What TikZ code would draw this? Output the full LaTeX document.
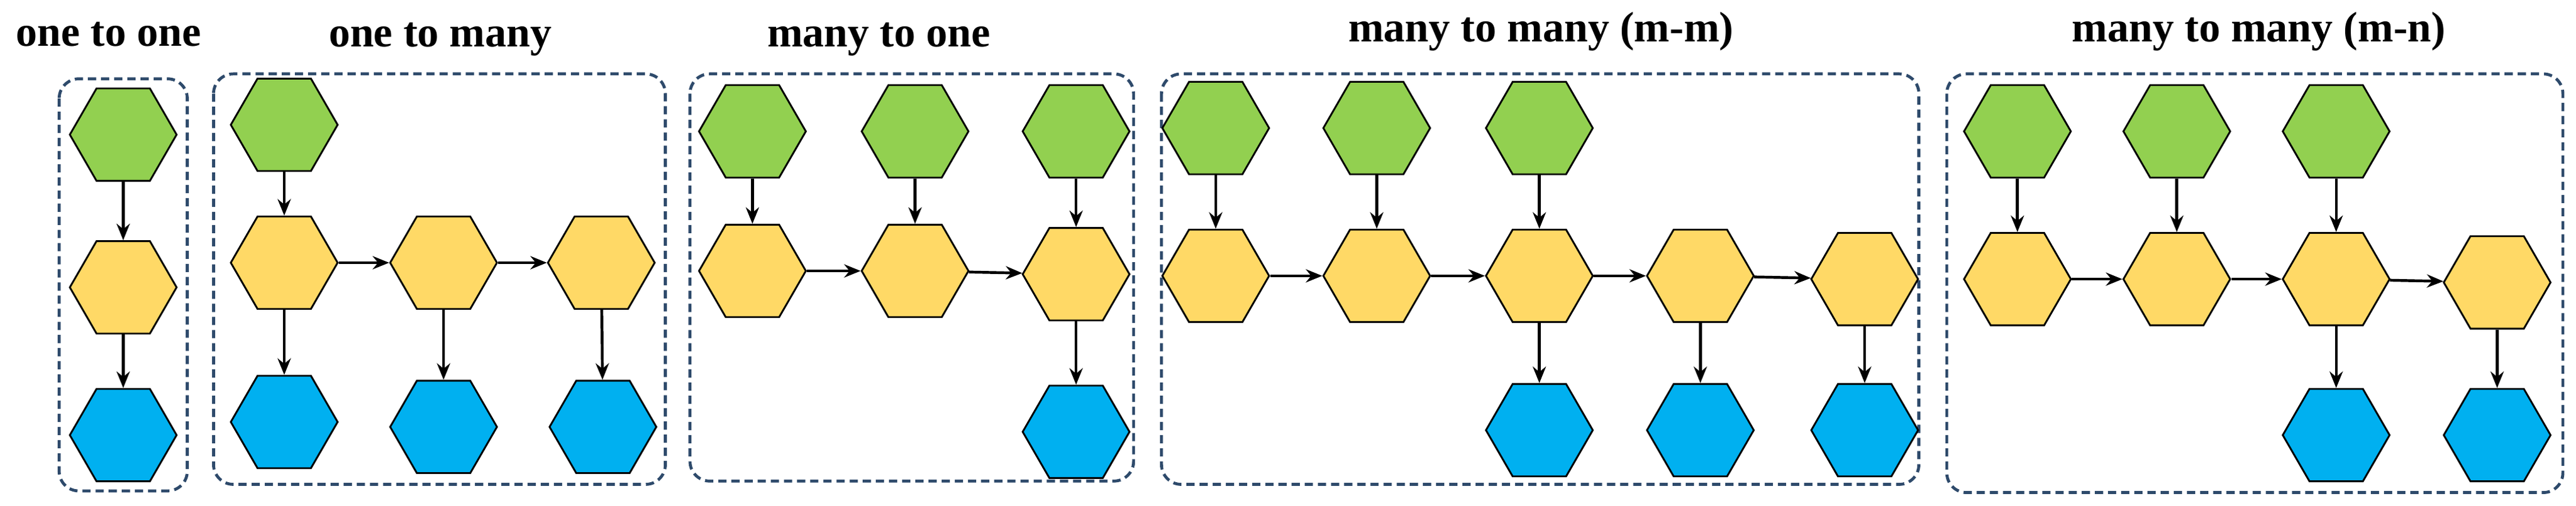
\documentclass[tikz,border=0pt]{standalone}
\usepackage{fontspec}
\setmainfont{Liberation Serif}
\usetikzlibrary{shapes.geometric,arrows.meta}
\definecolor{hg}{HTML}{92D050}
\definecolor{hy}{HTML}{FFD966}
\definecolor{hb}{HTML}{00B0F0}
\definecolor{bx}{HTML}{2E4A6B}
\begin{document}
\begin{tikzpicture}[x=1pt,y=-1pt,
  hex/.style={regular polygon,regular polygon sides=6,minimum size=65pt,inner sep=0pt,draw=black,line width=1.1pt},
  G/.style={hex,fill=hg},Y/.style={hex,fill=hy},B/.style={hex,fill=hb},
  grp/.style={draw=bx,dashed,dash pattern=on 5pt off 3pt,line width=1.8pt,rounded corners=12pt},
  ttl/.style={font=\fontsize{26}{28}\selectfont\bfseries},
  ar/.style={-{Stealth[length=10pt,width=8pt]},line width=1.7pt}]
\useasboundingbox (0,0) rectangle (1568,308);
% boxes
\draw[grp] (36,48) rectangle (114,299);
\draw[grp] (130,45) rectangle (405,295);
\draw[grp] (420,45) rectangle (690,293);
\draw[grp] (707,45) rectangle (1168,295);
\draw[grp] (1185,45) rectangle (1560,300);
% titles
\node[ttl] (t1) at (66,21) {one to one};
\node[ttl] (t2) at (268,24) {one to many};
\node[ttl] (t3) at (535,24) {many to one};
\node[ttl] (t4) at (938,19) {many to many (m-m)};
\node[ttl] (t5) at (1375,19) {many to many (m-n)};
% one to one
\node[G] (a1) at (75,82) {};
\node[Y] (a2) at (75,175) {};
\node[B] (a3) at (75,265) {};
\draw[ar] (a1) -- (a2); \draw[ar] (a2) -- (a3);
% one to many
\node[G] (bg) at (173,76) {};
\node[Y] (by1) at (173,160) {};
\node[Y] (by2) at (270,160) {};
\node[Y] (by3) at (366,160) {};
\node[B] (bb1) at (173,257) {};
\node[B] (bb2) at (270,260) {};
\node[B] (bb3) at (367,260) {};
\draw[ar] (bg) -- (by1);
\draw[ar] (by1) -- (by2); \draw[ar] (by2) -- (by3);
\draw[ar] (by1) -- (bb1); \draw[ar] (by2) -- (bb2); \draw[ar] (by3) -- (bb3);
% many to one
\node[G] (cg1) at (458,80) {};
\node[G] (cg2) at (557,80) {};
\node[G] (cg3) at (655,80) {};
\node[Y] (cy1) at (458,165) {};
\node[Y] (cy2) at (557,165) {};
\node[Y] (cy3) at (655,167) {};
\node[B] (cb3) at (655,263) {};
\draw[ar] (cg1) -- (cy1); \draw[ar] (cg2) -- (cy2); \draw[ar] (cg3) -- (cy3);
\draw[ar] (cy1) -- (cy2); \draw[ar] (cy2) -- (cy3);
\draw[ar] (cy3) -- (cb3);
% many to many m-m
\node[G] (dg1) at (740,78) {};
\node[G] (dg2) at (838,78) {};
\node[G] (dg3) at (937,78) {};
\node[Y] (dy1) at (740,168) {};
\node[Y] (dy2) at (838,168) {};
\node[Y] (dy3) at (937,168) {};
\node[Y] (dy4) at (1035,168) {};
\node[Y] (dy5) at (1135,170) {};
\node[B] (db3) at (937,262) {};
\node[B] (db4) at (1035,262) {};
\node[B] (db5) at (1135,262) {};
\draw[ar] (dg1) -- (dy1); \draw[ar] (dg2) -- (dy2); \draw[ar] (dg3) -- (dy3);
\draw[ar] (dy1) -- (dy2); \draw[ar] (dy2) -- (dy3); \draw[ar] (dy3) -- (dy4); \draw[ar] (dy4) -- (dy5);
\draw[ar] (dy3) -- (db3); \draw[ar] (dy4) -- (db4); \draw[ar] (dy5) -- (db5);
% many to many m-n
\node[G] (eg1) at (1228,80) {};
\node[G] (eg2) at (1325,80) {};
\node[G] (eg3) at (1422,80) {};
\node[Y] (ey1) at (1228,170) {};
\node[Y] (ey2) at (1325,170) {};
\node[Y] (ey3) at (1422,170) {};
\node[Y] (ey4) at (1520,172) {};
\node[B] (eb3) at (1422,265) {};
\node[B] (eb4) at (1520,265) {};
\draw[ar] (eg1) -- (ey1); \draw[ar] (eg2) -- (ey2); \draw[ar] (eg3) -- (ey3);
\draw[ar] (ey1) -- (ey2); \draw[ar] (ey2) -- (ey3); \draw[ar] (ey3) -- (ey4);
\draw[ar] (ey3) -- (eb3); \draw[ar] (ey4) -- (eb4);
\end{tikzpicture}
\end{document}
